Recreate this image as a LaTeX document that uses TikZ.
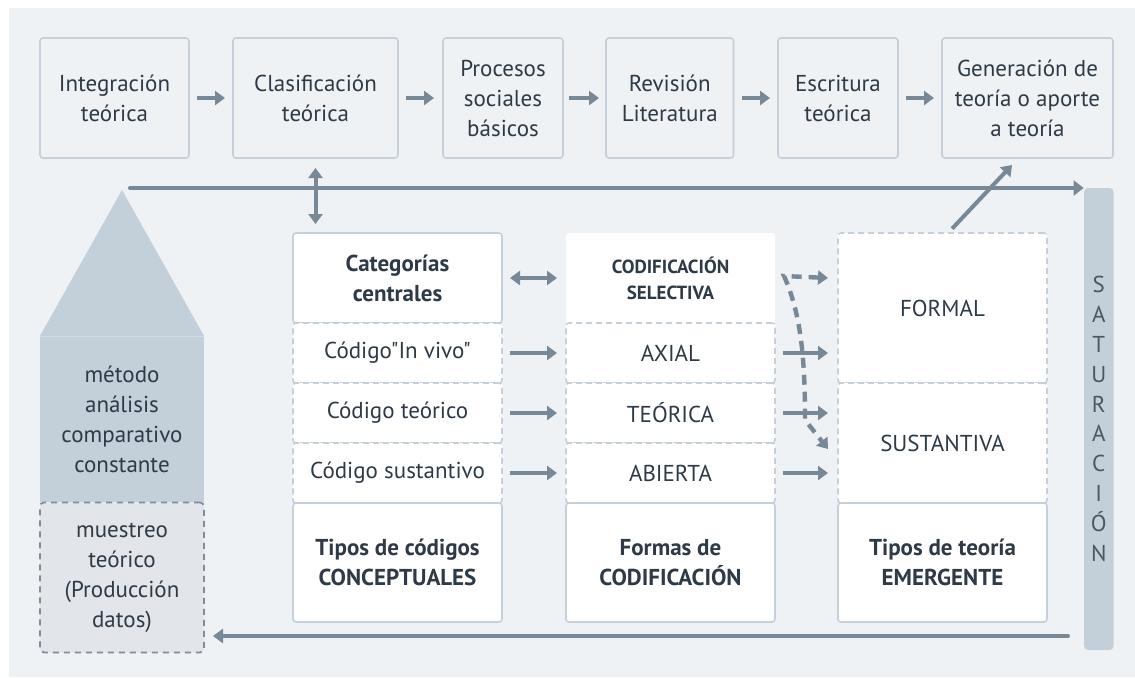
\documentclass[tikz,border=0pt]{standalone}
\usepackage{fontspec}
\setmainfont{PT Sans}[Ligatures=TeXOff]
\usetikzlibrary{arrows.meta, positioning}

\definecolor{panelbg}{HTML}{EEF2F5}
\definecolor{boxline}{HTML}{C6D0DA}
\definecolor{arrowgrey}{HTML}{778897}
\definecolor{shapefill}{HTML}{C3CFD9}
\definecolor{mutedfill}{HTML}{E2E6EA}
\definecolor{mutedline}{HTML}{7F8D99}
\definecolor{inkgrey}{HTML}{2E3A46}

\begin{document}
\begin{tikzpicture}[x=0.5pt, y=-0.5pt,
		every node/.style={font=\fontsize{11.5}{15}\selectfont, text=inkgrey, align=center},
		headtext/.style={font=\fontsize{11.5}{15}\selectfont\bfseries},
		topbox/.style={rectangle, rounded corners=1.5pt, draw=boxline, line width=0.8pt, fill=panelbg, minimum height=60pt, inner sep=0pt, outer sep=0pt},
		cellbox/.style={rectangle, rounded corners=1.5pt, draw=boxline, line width=0.8pt, fill=white, minimum width=104.5pt, inner sep=0pt, outer sep=0pt},
		dashcell/.style={cellbox, dash pattern=on 3pt off 2pt},
		flow/.style={draw=arrowgrey, line width=2pt, -{Triangle[length=5pt, width=7pt]}},
		twoway/.style={draw=arrowgrey, line width=2pt, {Triangle[length=5pt, width=7pt]}-{Triangle[length=5pt, width=7pt]}},
		dashflow/.style={draw=arrowgrey, line width=2.2pt, dash pattern=on 5pt off 3.5pt, {Triangle[length=5pt, width=7pt]}-{Triangle[length=5pt, width=7pt]}}
		]
		\fill[white] (0,0) rectangle (1135,677);
		\fill[panelbg] (9,8) rectangle (1135,677);
		\useasboundingbox (0,0) rectangle (1135,677);

		\node[topbox, minimum width=74.5pt] (integ) at (114.5,98) {Integración\\teórica};
		\node[topbox, minimum width=82.5pt, right=22pt of integ] (clasif) {Clasificación\\teórica};
		\node[topbox, minimum width=60pt, right=22.5pt of clasif] (procesos) {Procesos\\sociales\\básicos};
		\node[topbox, minimum width=63.75pt, right=21.5pt of procesos] (revision) {Revisión\\Literatura};
		\node[topbox, minimum width=60pt, right=22.25pt of revision] (escritura) {Escritura\\teórica};
		\node[topbox, minimum width=85.5pt, right=22pt of escritura] (generacion) {Generación de\\teoría o aporte\\a teoría};

		\draw[flow, shorten <=4pt, shorten >=4pt] (integ) -- (clasif);
		\draw[flow, shorten <=4pt, shorten >=4.5pt] (clasif) -- (procesos);
		\draw[flow, shorten <=3pt, shorten >=3.5pt] (procesos) -- (revision);
		\draw[flow, shorten <=4pt, shorten >=4pt] (revision) -- (escritura);
		\draw[flow, shorten <=4pt, shorten >=4pt] (escritura) -- (generacion);

		\node[cellbox, minimum height=45pt, headtext] (categ) at (397.5,278) {Categorías\\centrales};
		\node[dashcell, minimum height=30pt, below=0pt of categ] (invivo) {Código"In vivo"};
		\node[dashcell, minimum height=30pt, below=0pt of invivo] (codteo) {Código teórico};
		\node[dashcell, minimum height=30pt, below=0pt of codteo] (codsus) {Código sustantivo};
		\node[cellbox, minimum height=59.5pt, below=0pt of codsus, headtext] (tiposcod) {Tipos de códigos\\CONCEPTUALES};

		\node[cellbox, draw=none, minimum height=45pt, right=32pt of categ, font=\fontsize{9.5}{13}\selectfont\bfseries] (selectiva) {CODIFICACIÓN\\SELECTIVA};
		\node[dashcell, minimum height=30pt, below=0pt of selectiva] (axial) {AXIAL};
		\node[dashcell, minimum height=30pt, below=0pt of axial] (teorica) {TEÓRICA};
		\node[dashcell, minimum height=30pt, below=0pt of teorica] (abierta) {ABIERTA};
		\node[cellbox, minimum height=59.5pt, below=0pt of abierta, headtext] (formascod) {Formas de\\CODIFICACIÓN};

		\node[dashcell, minimum height=75pt, anchor=north west] (formal) at ([xshift=31.5pt]selectiva.north east) {FORMAL};
		\node[dashcell, minimum height=60pt, below=0pt of formal] (sustantiva) {SUSTANTIVA};
		\node[cellbox, minimum height=59.5pt, below=0pt of sustantiva, headtext] (tipoteo) {Tipos de teoría\\EMERGENTE};

		\draw[twoway, shorten <=4pt, shorten >=4.5pt] (categ) -- (selectiva);
		\draw[flow, shorten <=4pt, shorten >=4.5pt] (invivo) -- (axial);
		\draw[flow, shorten <=4pt, shorten >=4.5pt] (codteo) -- (teorica);
		\draw[flow, shorten <=4pt, shorten >=4.5pt] (codsus) -- (abierta);
		\draw[flow, shorten <=4pt, shorten >=5pt] (axial) -- (axial -| formal.west);
		\draw[flow, shorten <=4pt, shorten >=5pt] (teorica) -- (teorica -| formal.west);
		\draw[flow, shorten <=4pt, shorten >=5pt] (abierta) -- (abierta -| formal.west);
		\draw[dashflow] ([xshift=-5pt, yshift=15pt]formal.west) -- ++(-22pt,1pt)
			.. controls +(9pt,-20pt) and +(0pt,28pt) .. ++(10.5pt,-72pt)
			-- ([xshift=-5pt, yshift=-3pt]sustantiva.west);
		\draw[flow, shorten <=3pt] ([xshift=2.75pt]formal.north) -- ([xshift=-7.75pt, yshift=-3.5pt]generacion.south);

		\draw[twoway, shorten <=5pt, shorten >=4.5pt] (clasif.south) -- (clasif.south |- categ.north);

		\node[fill=shapefill, minimum width=82pt, minimum height=82.5pt, inner sep=0pt] (metodo) at (122,419.5) {método\\análisis\\comparativo\\constante};
		\coordinate (apex) at (122,190);
		\fill[shapefill] (metodo.north west) -- (apex) -- (metodo.north east) -- cycle;
		\node[draw=mutedline, fill=mutedfill, line width=0.9pt, dash pattern=on 3pt off 2.5pt, rounded corners=2pt, minimum width=82pt, minimum height=75pt, inner sep=0pt, outer sep=0pt, below=0pt of metodo] (muestreo) {muestreo\\teórico\\(Producción\\datos)};

		\node[fill=shapefill, rounded corners=2pt, minimum width=14.75pt, minimum height=231pt, inner sep=0pt] (satbar) at (1098.75,419) {};
		\node[font=\fontsize{11.5}{14.9}\selectfont, text=inkgrey!85] (satword) at (satbar) {S\\A\\T\\U\\R\\A\\C\\I\\Ó\\N};

		\coordinate (loopstart) at (130,188);
		\draw[flow, -{Triangle[length=5pt, width=7.5pt]}, line cap=round] (loopstart) -- (loopstart -| satbar.west);
		\coordinate (loopend) at (1068,636);
		\draw[flow, line cap=round, shorten >=4.5pt] (loopend) -- (loopend -| muestreo.east);

	\end{tikzpicture}
\end{document}
